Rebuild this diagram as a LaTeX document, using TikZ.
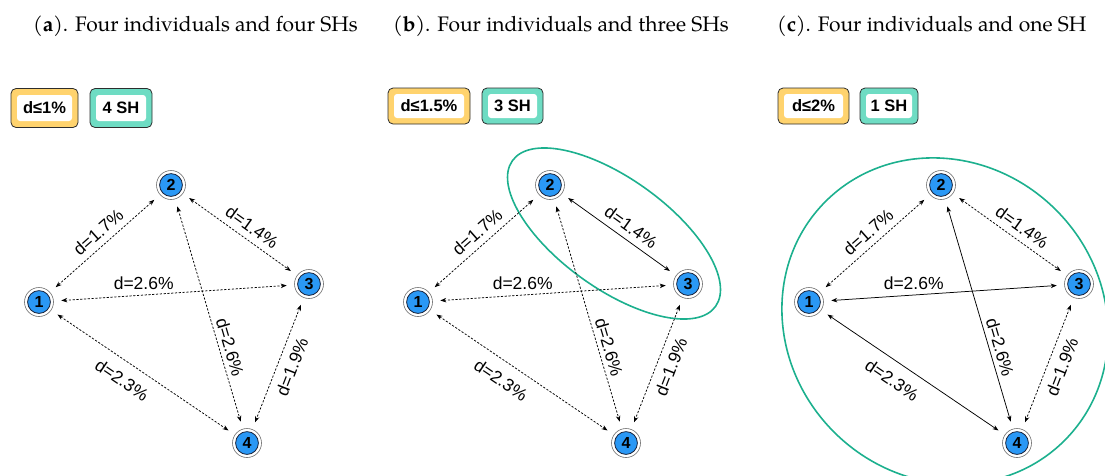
\documentclass[tikz,border=0pt]{standalone}
\usepackage{fontspec}
\setmainfont{TeX Gyre Pagella}
\newfontfamily\lab{Liberation Sans}
\usetikzlibrary{arrows.meta,shapes.geometric}

\definecolor{indblue}{RGB}{42,152,245}
\definecolor{indrim}{RGB}{25,35,60}
\definecolor{ringgray}{RGB}{110,110,110}
\definecolor{thryellow}{RGB}{255,211,110}
\definecolor{shteal}{RGB}{110,220,195}
\definecolor{grpteal}{RGB}{28,176,142}
\definecolor{boxrim}{RGB}{45,45,45}

\tikzset{
  ind/.style={circle, minimum size=29pt, inner sep=0pt, draw=ringgray, line width=0.6pt, fill=white,
    font=\lab\bfseries\fontsize{16}{16}\selectfont,
    path picture={\fill[indblue, draw=indrim, line width=0.8pt]
      (path picture bounding box.center) circle (11.4pt);}},
  link/.style={{Stealth[length=6pt,width=4.5pt]}-{Stealth[length=6pt,width=4.5pt]},
    line width=0.75pt, shorten <=7.5pt, shorten >=7.5pt},
  lnkdash/.style={link, dash pattern=on 2.2pt off 1.6pt},
  lnksolid/.style={link},
  dist/.style={font=\lab\fontsize{17.5}{17.5}\selectfont, inner sep=0pt, sloped},
  flatdist/.style={font=\lab\fontsize{17.5}{17.5}\selectfont, inner sep=0pt},
  thr/.style={rectangle, rounded corners=5pt, fill=thryellow, draw=boxrim, line width=0.8pt, inner sep=0pt},
  shb/.style={rectangle, rounded corners=5pt, fill=shteal, draw=boxrim, line width=0.8pt, inner sep=0pt},
  boxin/.style={rectangle, rounded corners=3pt, fill=white, inner sep=0pt,
    font=\lab\bfseries\fontsize{16.5}{16.5}\selectfont},
  ttl/.style={anchor=base west, inner sep=0pt, font=\fontsize{21}{21}\selectfont},
  grp/.style={ellipse, draw=grpteal, line width=1.6pt, inner sep=0pt},
}

% one network of four individuals; #1 name prefix, #2 horizontal offset,
% #3..#8 line styles of the links 1-2, 2-3, 1-3, 2-4, 3-4, 1-4
\newcommand\network[8]{%
  \begin{scope}[xshift=#2pt]
    \node[ind] (#1-1) at (39,302) {1};
    \node[ind] (#1-2) at (171,185) {2};
    \node[ind] (#1-3) at (309,284) {3};
    \node[ind] (#1-4) at (247,443) {4};
    \draw[#3] (#1-1) -- node[dist, pos=.516, yshift=13pt] {d=1.7\%} (#1-2);
    \draw[#4] (#1-2) -- node[dist, pos=.539, yshift=13pt] {d=1.4\%} (#1-3);
    \draw[#5] (#1-1) -- node[flatdist, pos=.374, yshift=12pt] {d=2.6\%} (#1-3);
    \draw[#6] (#1-2) -- node[dist, pos=.657, yshift=11pt] {d=2.6\%} (#1-4);
    \draw[#7] (#1-3) -- node[dist, pos=.487, yshift=-14.3pt] {d=1.9\%} (#1-4);
    \draw[#8] (#1-1) -- node[dist, pos=.44, yshift=-18pt] {d=2.3\%} (#1-4);
  \end{scope}}

\begin{document}
\begin{tikzpicture}[x=1pt, y=-1pt]
  \useasboundingbox (0,0) rectangle (1105,475);
  \clip (0,0) rectangle (1105,475);

  % panel titles
  \node[ttl] (ta) at (33,31)  {(\textbf{a}). Four individuals and four SHs};
  \node[ttl] (tb) at (393,31) {(\textbf{b}). Four individuals and three SHs};
  \node[ttl] (tc) at (777,31) {(\textbf{c}). Four individuals and one SH};

  % threshold and group-count tags
  \node[thr, minimum width=67pt, minimum height=39pt] (a-thr) at (44.5,108) {};
  \node[boxin, minimum width=55pt, minimum height=26pt] (a-thr-t) at (a-thr) {d≤1\%};
  \node[shb, minimum width=62pt, minimum height=39pt] (a-sh) at (121,108) {};
  \node[boxin, minimum width=50pt, minimum height=26pt] (a-sh-t) at (a-sh) {4 SH};

  \node[thr, minimum width=82pt, minimum height=36pt] (b-thr) at (429,106) {};
  \node[boxin, minimum width=70pt, minimum height=24pt] (b-thr-t) at (b-thr) {d≤1.5\%};
  \node[shb, minimum width=61pt, minimum height=36pt] (b-sh) at (512.5,106) {};
  \node[boxin, minimum width=49pt, minimum height=24pt] (b-sh-t) at (b-sh) {3 SH};

  \node[thr, minimum width=71pt, minimum height=36pt] (c-thr) at (813.5,106) {};
  \node[boxin, minimum width=59pt, minimum height=24pt] (c-thr-t) at (c-thr) {d≤2\%};
  \node[shb, minimum width=58pt, minimum height=36pt] (c-sh) at (889,106) {};
  \node[boxin, minimum width=46pt, minimum height=24pt] (c-sh-t) at (c-sh) {1 SH};

  % group outlines
  \node[grp, minimum width=250pt, minimum height=110pt, rotate=-35.7] (b-grp) at (614,233.5) {};
  \node[grp, minimum width=338pt, minimum height=314pt, rotate=-45] (c-grp) at (945,321) {};

  % the three networks
  \network{a}{0}{lnkdash}{lnkdash}{lnkdash}{lnkdash}{lnkdash}{lnkdash}
  \network{b}{379}{lnkdash}{lnksolid}{lnkdash}{lnkdash}{lnkdash}{lnkdash}
  \network{c}{770}{lnkdash}{lnkdash}{lnksolid}{lnksolid}{lnkdash}{lnksolid}
\end{tikzpicture}
\end{document}
